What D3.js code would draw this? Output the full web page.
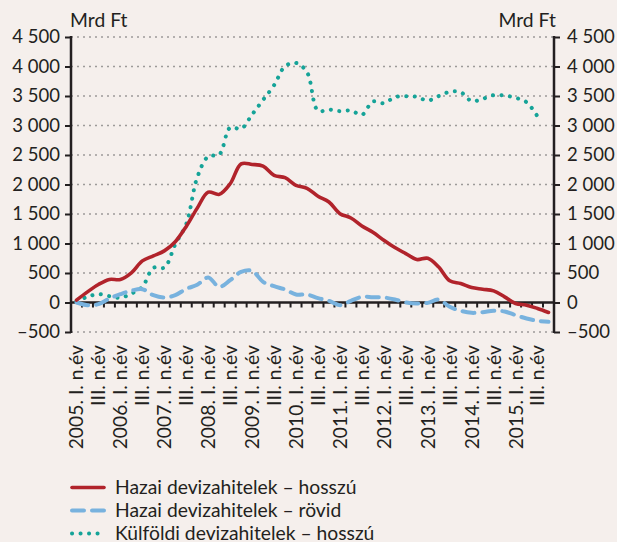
<!DOCTYPE html>
<html>
<head>
<meta charset="utf-8">
<script src="https://cdn.jsdelivr.net/npm/d3@7"></script>
<style>
  html, body { margin: 0; padding: 0; background: #f5efec; }
  svg { display: block; }
  text { font-family: Lato, "Open Sans", sans-serif; fill: #231f20; }
</style>
</head>
<body>
<svg id="chart" width="617" height="542"></svg>
<script>
// Quarterly periods 2005 Q1 – 2015 Q4
const periods = [
  "2005Q1","2005Q2","2005Q3","2005Q4","2006Q1","2006Q2","2006Q3","2006Q4",
  "2007Q1","2007Q2","2007Q3","2007Q4","2008Q1","2008Q2","2008Q3","2008Q4",
  "2009Q1","2009Q2","2009Q3","2009Q4","2010Q1","2010Q2","2010Q3","2010Q4",
  "2011Q1","2011Q2","2011Q3","2011Q4","2012Q1","2012Q2","2012Q3","2012Q4",
  "2013Q1","2013Q2","2013Q3","2013Q4","2014Q1","2014Q2","2014Q3","2014Q4",
  "2015Q1","2015Q2","2015Q3","2015Q4"
];

// Category labels on the x axis (every second quarter is labelled)
const xLabels = [
  "2005. I. n.év","","III. n.év","","2006. I. n.év","","III. n.év","",
  "2007. I. n.év","","III. n.év","","2008. I. n.év","","III. n.év","",
  "2009. I. n.év","","III. n.év","","2010. I. n.év","","III. n.év","",
  "2011. I. n.év","","III. n.év","","2012. I. n.év","","III. n.év","",
  "2013. I. n.év","","III. n.év","","2014. I. n.év","","III. n.év","",
  "2015. I. n.év","","III. n.év",""
];

// Hazai devizahitelek – hosszú (Mrd Ft)
const domesticLong = [
  40, 180, 305, 390, 390, 502, 705, 790, 875, 1030, 1290, 1600,
  1870, 1833, 2013, 2350, 2340, 2310, 2154, 2115, 1985, 1935, 1800, 1703,
  1506, 1433, 1297, 1190, 1055, 931, 829, 728, 750, 600, 367, 321,
  254, 226, 197, 96, -17, -45, -102, -169
];

// Hazai devizahitelek – rövid (Mrd Ft)
const domesticShort = [
  0, -45, -28, 68, 141, 200, 226, 124, 85, 124, 231, 300,
  425, 265, 378, 519, 536, 350, 276, 220, 135, 135, 75, 28,
  -45, 28, 96, 90, 85, 51, 0, -17, -6, 50, -73, -141,
  -175, -164, -141, -152, -214, -271, -310, -327
];

// Külföldi devizahitelek – hosszú (Mrd Ft), through 2015 Q3
const foreignLong = [
  20, 96, 141, 107, 79, 152, 265, 587, 592, 987, 1330, 2120,
  2476, 2505, 2965, 2944, 3187, 3435, 3683, 4004, 4061, 3903, 3250, 3271,
  3243, 3254, 3181, 3407, 3378, 3480, 3497, 3486, 3423, 3500, 3570, 3565,
  3413, 3452, 3514, 3508, 3469, 3395, 3153
];

const yTicks = [-500, 0, 500, 1000, 1500, 2000, 2500, 3000, 3500, 4000, 4500];
const yTickLabels = ["–500","0","500","1 000","1 500","2 000","2 500","3 000","3 500","4 000","4 500"];

const unitLabel = "Mrd Ft";
const seriesNames = [
  "Hazai devizahitelek – hosszú",
  "Hazai devizahitelek – rövid",
  "Külföldi devizahitelek – hosszú"
];

const colors = { red: "#b1232b", blue: "#78b2de", teal: "#15a398", ink: "#231f20", grid: "#9d9a99" };

const svg = d3.select("#chart");
const plotLeft = 71, plotRight = 554, plotTop = 37, plotBottom = 332;
const numSize = 18.5, textSize = 19.3;

const x = d3.scaleBand().domain(periods).range([plotLeft, plotRight]).padding(0);
const y = d3.scaleLinear().domain([-500, 4500]).range([plotBottom, plotTop]);
const cx = p => x(p) + x.bandwidth() / 2;

// Dotted horizontal gridlines
svg.append("g")
  .selectAll("line")
  .data(yTicks.filter(v => v !== 0))
  .join("line")
  .attr("x1", plotLeft).attr("x2", plotRight)
  .attr("y1", d => y(d)).attr("y2", d => y(d))
  .attr("stroke", colors.grid)
  .attr("stroke-width", 1.5)
  .attr("stroke-dasharray", "2 4");

// Left value axis
const leftAxis = d3.axisLeft(y).tickValues(yTicks)
  .tickFormat((d, i) => yTickLabels[i]).tickSize(6).tickPadding(5);
const gL = svg.append("g").attr("transform", `translate(${plotLeft},0)`).call(leftAxis);

// Right value axis
const rightAxis = d3.axisRight(y).tickValues(yTicks)
  .tickFormat((d, i) => yTickLabels[i]).tickSize(6).tickPadding(7);
const gR = svg.append("g").attr("transform", `translate(${plotRight},0)`).call(rightAxis);

[gL, gR].forEach(g => {
  g.select(".domain").attr("stroke", colors.ink).attr("stroke-width", 2.5)
    .attr("d", `M0,${plotTop - 1}V${plotBottom + 1}`);
  g.selectAll(".tick line").attr("stroke", colors.ink).attr("stroke-width", 2);
  g.selectAll(".tick text").attr("font-size", numSize).attr("fill", colors.ink)
    .style("font-family", "Lato, 'Open Sans', sans-serif");
});

// Category axis on the zero line: ticks between quarters
const boundaries = periods.slice(1).map(p => x(p));
svg.append("g")
  .selectAll("line")
  .data(boundaries)
  .join("line")
  .attr("x1", d => d).attr("x2", d => d)
  .attr("y1", y(0)).attr("y2", y(0) + 5)
  .attr("stroke", colors.ink).attr("stroke-width", 2);
svg.append("line")
  .attr("x1", plotLeft).attr("x2", plotRight)
  .attr("y1", y(0)).attr("y2", y(0))
  .attr("stroke", colors.ink).attr("stroke-width", 2.5);

// Rotated category labels
svg.append("g")
  .selectAll("text")
  .data(periods.map((p, i) => ({ p, label: xLabels[i] })).filter(d => d.label))
  .join("text")
  .attr("transform", d => `translate(${cx(d.p)},${plotBottom + 13}) rotate(-90)`)
  .attr("text-anchor", "end")
  .attr("dy", "0.36em")
  .attr("font-size", textSize)
  .text(d => d.label);

// Unit titles
svg.append("text").attr("x", 70).attr("y", 27).attr("font-size", textSize).text(unitLabel);
svg.append("text").attr("x", 556).attr("y", 27).attr("text-anchor", "end").attr("font-size", textSize).text(unitLabel);

// Series lines
const line = d3.line()
  .x((d, i) => cx(periods[i]))
  .y(d => y(d))
  .curve(d3.curveCatmullRom.alpha(0.5));

svg.append("path").datum(foreignLong)
  .attr("d", line).attr("fill", "none")
  .attr("stroke", colors.teal).attr("stroke-width", 4)
  .attr("stroke-linecap", "round").attr("stroke-dasharray", "0.1 8.4");

svg.append("path").datum(domesticShort)
  .attr("d", line).attr("fill", "none")
  .attr("stroke", colors.blue).attr("stroke-width", 4)
  .attr("stroke-linecap", "round").attr("stroke-dasharray", "12 8");

svg.append("path").datum(domesticLong)
  .attr("d", line).attr("fill", "none")
  .attr("stroke", colors.red).attr("stroke-width", 3.6)
  .attr("stroke-linecap", "round");

// Legend
const legendItems = [
  { name: seriesNames[0], color: colors.red, dash: null, width: 3.6 },
  { name: seriesNames[1], color: colors.blue, dash: "12 8", width: 4 },
  { name: seriesNames[2], color: colors.teal, dash: "0.1 8.4", width: 4 }
];
const lg = svg.append("g").attr("transform", "translate(0,487.5)");
const rows = lg.selectAll("g").data(legendItems).join("g")
  .attr("transform", (d, i) => `translate(0,${i * 23})`);
rows.append("line")
  .attr("x1", 72).attr("x2", 104).attr("y1", 0).attr("y2", 0)
  .attr("stroke", d => d.color).attr("stroke-width", d => d.width)
  .attr("stroke-linecap", "round")
  .attr("stroke-dasharray", d => d.dash);
rows.append("text")
  .attr("x", 115).attr("dy", "0.34em")
  .attr("font-size", textSize)
  .text(d => d.name);
</script>
</body>
</html>
